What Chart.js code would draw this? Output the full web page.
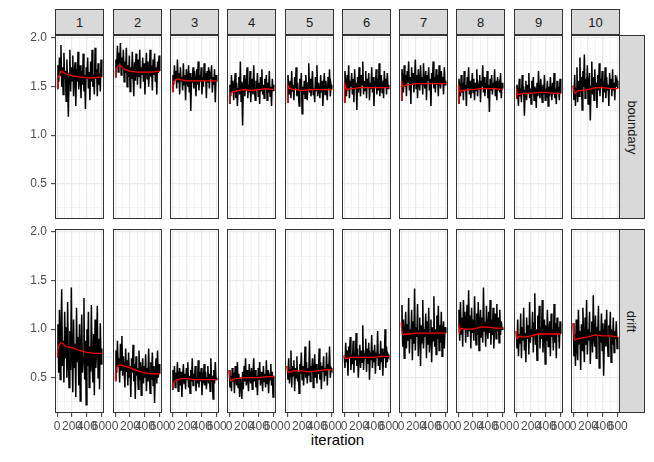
<!DOCTYPE html>
<html>
<head>
<meta charset="utf-8">
<script src="https://cdn.jsdelivr.net/npm/chart.js@4.4.1/dist/chart.umd.min.js"></script>
<style>
  body { margin: 0; background: #fff; }
  #wrap { position: relative; width: 654px; height: 462px; overflow: hidden; font-family: "Liberation Sans", Arial, sans-serif; }
  #wrap canvas { position: absolute; }
  .strip { position: absolute; box-sizing: border-box; background: #d9d9d9; border: 1px solid #333; color: #1a1a1a; font-size: 13px; display: flex; align-items: center; justify-content: center; }
  .strip.side span { transform: rotate(90deg); white-space: nowrap; }
  #xtitle { position: absolute; left: 55px; width: 565px; top: 431px; text-align: center; font-size: 15px; color: #000; }
</style>
</head>
<body>
<div id="wrap">
  <div id="xtitle">iteration</div>
</div>
<script>
// facets
const chains = ['1', '2', '3', '4', '5', '6', '7', '8', '9', '10'];
const params = ['boundary', 'drift'];

// axis ticks
const yTicks = [0.25, 0.5, 0.75, 1.0, 1.25, 1.5, 1.75, 2.0];
const xTicks = [0, 100, 200, 300, 400, 500, 600];

const boundaryTrace = [
  [1.48,1.72,1.55,1.80,1.62,1.93,1.50,1.70,1.42,1.85,1.58,1.66,1.35,1.78,1.52,1.19,1.64,1.88,1.45,1.70,1.56,1.82,1.40,1.62,1.75,1.30,1.68,1.55,1.86,1.47,1.60,1.72,1.38,1.66,1.52,1.84,1.45,1.62,1.27,1.70,1.58,1.80,1.48,1.65,1.36,1.76,1.55,1.88,1.50,1.62,1.42,1.90,1.58,1.68,1.40,1.74,1.52,1.64,1.45,1.78,1.60],
  [1.60,1.78,1.70,1.92,1.65,1.85,1.74,1.95,1.62,1.80,1.68,1.88,1.55,1.76,1.64,1.90,1.50,1.72,1.60,1.82,1.45,1.70,1.58,1.86,1.62,1.40,1.75,1.56,1.84,1.66,1.52,1.78,1.60,1.88,1.48,1.70,1.62,1.80,1.55,1.74,1.42,1.68,1.85,1.58,1.76,1.50,1.66,1.88,1.60,1.72,1.46,1.78,1.62,1.84,1.55,1.70,1.42,1.76,1.64,1.82,1.66],
  [1.45,1.62,1.52,1.72,1.58,1.66,1.48,1.78,1.55,1.64,1.42,1.70,1.56,1.60,1.46,1.74,1.52,1.62,1.36,1.68,1.58,1.50,1.72,1.44,1.64,1.25,1.60,1.54,1.70,1.48,1.66,1.56,1.40,1.68,1.52,1.76,1.46,1.62,1.55,1.70,1.42,1.60,1.50,1.74,1.56,1.64,1.38,1.66,1.54,1.70,1.48,1.62,1.58,1.72,1.44,1.60,1.52,1.68,1.34,1.62,1.55],
  [1.33,1.52,1.40,1.62,1.45,1.56,1.36,1.50,1.64,1.38,1.54,1.30,1.48,1.60,1.42,1.76,1.35,1.55,1.10,1.50,1.62,1.40,1.58,1.46,1.70,1.38,1.52,1.44,1.66,1.34,1.50,1.58,1.42,1.72,1.46,1.36,1.56,1.48,1.64,1.40,1.54,1.32,1.60,1.46,1.68,1.42,1.52,1.38,1.58,1.48,1.62,1.36,1.54,1.44,1.66,1.40,1.50,1.30,1.58,1.46,1.52],
  [1.34,1.62,1.50,1.42,1.56,1.38,1.66,1.45,1.52,1.36,1.60,1.48,1.70,1.40,1.54,1.44,1.30,1.58,1.46,1.64,1.22,1.50,1.42,1.56,1.38,1.62,1.48,1.36,1.54,1.74,1.44,1.58,1.40,1.52,1.66,1.42,1.48,1.34,1.60,1.46,1.72,1.40,1.54,1.48,1.38,1.62,1.44,1.56,1.30,1.50,1.64,1.42,1.56,1.46,1.36,1.60,1.48,1.68,1.40,1.52,1.47],
  [1.34,1.66,1.54,1.40,1.62,1.46,1.72,1.38,1.56,1.50,1.64,1.42,1.58,1.34,1.68,1.48,1.54,1.26,1.60,1.44,1.70,1.50,1.40,1.62,1.52,1.76,1.42,1.56,1.46,1.66,1.38,1.58,1.50,1.64,1.36,1.54,1.48,1.70,1.44,1.60,1.30,1.56,1.50,1.68,1.42,1.58,1.46,1.74,1.40,1.54,1.62,1.44,1.56,1.38,1.66,1.50,1.58,1.42,1.64,1.48,1.52],
  [1.36,1.68,1.58,1.44,1.72,1.50,1.62,1.40,1.66,1.54,1.76,1.46,1.60,1.32,1.70,1.52,1.64,1.44,1.58,1.78,1.48,1.62,1.38,1.68,1.56,1.46,1.72,1.52,1.60,1.42,1.74,1.54,1.48,1.66,1.36,1.62,1.56,1.70,1.46,1.58,1.30,1.64,1.54,1.76,1.48,1.60,1.44,1.68,1.52,1.62,1.40,1.72,1.56,1.48,1.66,1.54,1.60,1.42,1.70,1.52,1.56],
  [1.33,1.58,1.48,1.40,1.62,1.44,1.54,1.36,1.66,1.46,1.52,1.30,1.60,1.48,1.70,1.42,1.56,1.38,1.50,1.64,1.44,1.58,1.36,1.54,1.46,1.68,1.40,1.52,1.48,1.62,1.34,1.56,1.50,1.72,1.44,1.60,1.40,1.54,1.48,1.66,1.38,1.52,1.24,1.58,1.46,1.62,1.42,1.54,1.48,1.68,1.40,1.56,1.36,1.60,1.46,1.52,1.44,1.64,1.38,1.54,1.48],
  [1.38,1.52,1.44,1.30,1.58,1.40,1.48,1.34,1.62,1.42,1.50,1.20,1.46,1.56,1.36,1.52,1.44,1.64,1.38,1.48,1.32,1.56,1.42,1.60,1.36,1.50,1.46,1.28,1.54,1.40,1.66,1.44,1.38,1.58,1.46,1.34,1.52,1.42,1.62,1.36,1.48,1.44,1.56,1.30,1.50,1.40,1.60,1.46,1.36,1.54,1.42,1.64,1.38,1.48,1.32,1.56,1.44,1.50,1.36,1.58,1.43],
  [1.51,1.36,1.62,1.30,1.48,1.70,1.34,1.56,1.40,1.80,1.44,1.60,1.26,1.66,1.50,1.83,1.38,1.58,1.46,1.72,1.32,1.54,1.64,1.15,1.50,1.76,1.42,1.60,1.36,1.68,1.48,1.54,1.28,1.62,1.46,1.74,1.40,1.58,1.50,1.66,1.34,1.56,1.44,1.70,1.38,1.60,1.46,1.52,1.30,1.64,1.48,1.58,1.40,1.68,1.46,1.54,1.36,1.62,1.50,1.56,1.48]
];

const driftTrace = [
  [0.71,1.05,0.55,1.20,0.48,0.95,1.41,0.62,0.88,0.45,1.18,0.70,1.02,0.50,1.28,0.66,0.40,0.98,0.58,1.43,0.72,0.35,1.10,0.60,0.85,0.30,1.22,0.66,0.92,0.42,1.05,0.26,0.80,1.15,0.55,0.70,1.32,0.48,0.88,0.22,1.00,0.62,1.18,0.40,0.82,0.56,1.25,0.65,0.45,0.95,0.32,1.10,0.60,0.78,1.24,0.50,0.90,0.38,1.06,0.64,0.80],
  [0.47,0.78,0.55,0.88,0.62,0.70,0.45,0.85,0.58,0.93,0.52,0.72,0.60,0.40,0.80,0.56,0.68,0.42,0.76,0.50,0.62,0.30,0.70,0.55,0.84,0.46,0.64,0.28,0.72,0.52,0.60,0.38,0.78,0.48,0.66,0.32,0.58,0.70,0.44,0.62,0.50,0.74,0.36,0.60,0.46,0.80,0.52,0.34,0.66,0.48,0.76,0.42,0.62,0.24,0.56,0.70,0.44,0.78,0.50,0.64,0.54],
  [0.38,0.58,0.45,0.62,0.40,0.55,0.48,0.66,0.36,0.52,0.60,0.42,0.56,0.30,0.50,0.64,0.44,0.54,0.38,0.60,0.48,0.66,0.40,0.52,0.34,0.58,0.46,0.70,0.42,0.54,0.48,0.62,0.36,0.50,0.44,0.68,0.40,0.56,0.46,0.60,0.32,0.52,0.48,0.64,0.42,0.56,0.38,0.50,0.62,0.44,0.54,0.36,0.70,0.46,0.52,0.28,0.58,0.44,0.66,0.48,0.50],
  [0.58,0.40,0.52,0.36,0.60,0.46,0.55,0.34,0.62,0.48,0.42,0.66,0.40,0.54,0.30,0.50,0.44,0.28,0.56,0.38,0.62,0.46,0.70,0.42,0.58,0.48,0.36,0.64,0.50,0.44,0.60,0.38,0.54,0.70,0.46,0.58,0.40,0.52,0.32,0.60,0.48,0.66,0.42,0.56,0.50,0.36,0.62,0.46,0.54,0.40,0.68,0.44,0.58,0.34,0.52,0.48,0.64,0.42,0.56,0.30,0.52],
  [0.62,0.48,0.70,0.44,0.58,0.78,0.40,0.62,0.52,0.68,0.36,0.60,0.50,0.72,0.46,0.56,0.34,0.64,0.54,0.76,0.48,0.62,0.42,0.58,0.82,0.50,0.66,0.44,0.60,0.52,0.88,0.46,0.62,0.56,0.70,0.40,0.58,0.74,0.50,0.64,0.44,0.60,0.54,0.80,0.48,0.66,0.38,0.62,0.56,0.72,0.46,0.60,0.52,0.76,0.42,0.64,0.58,0.82,0.50,0.60,0.58],
  [0.73,0.60,0.86,0.66,0.78,0.52,0.82,0.70,0.92,0.58,0.74,0.64,0.88,0.55,0.76,0.68,0.96,0.62,0.80,0.50,0.72,0.84,0.60,0.78,0.66,1.04,0.58,0.74,0.70,0.90,0.56,0.80,0.64,0.86,0.48,0.72,0.68,0.94,0.60,0.78,0.66,0.84,0.54,0.76,0.70,0.98,0.62,0.74,0.58,0.88,0.66,0.80,0.52,0.76,0.70,1.00,0.60,0.82,0.66,0.74,0.72],
  [1.07,1.25,0.82,1.10,0.70,0.95,1.18,0.80,1.05,0.88,1.32,0.75,1.00,0.90,1.20,0.68,1.08,0.85,1.42,0.78,1.02,0.92,1.26,0.72,0.98,1.12,0.62,1.04,0.86,1.30,0.80,1.00,0.92,1.16,0.70,1.08,0.84,1.22,0.76,0.96,1.10,0.66,1.02,0.88,1.34,0.82,1.00,0.74,1.14,0.90,1.24,0.78,1.04,0.86,1.18,0.72,0.98,1.08,0.80,1.02,0.96],
  [1.05,1.20,0.88,1.28,0.95,1.12,0.82,1.30,1.00,1.18,0.86,1.08,1.25,0.92,1.40,0.98,1.14,0.80,1.22,0.96,1.10,0.88,1.34,1.02,0.84,1.16,0.94,1.28,0.78,1.06,1.20,0.92,1.12,0.86,1.43,0.98,1.08,0.82,1.24,1.00,0.90,1.18,0.96,1.30,0.84,1.10,0.94,1.22,0.80,1.06,1.16,0.90,1.26,0.98,1.12,0.86,1.20,0.94,1.08,1.00,1.02],
  [0.98,0.80,1.10,0.72,0.95,0.85,1.16,0.70,1.02,0.88,1.22,0.78,0.96,0.66,1.12,0.90,1.04,0.74,1.28,0.86,1.00,0.92,1.18,0.76,1.06,1.37,0.84,1.00,0.68,1.14,0.94,1.24,0.80,1.02,0.90,1.30,0.76,0.98,1.10,0.64,1.04,0.88,1.20,0.82,0.96,1.08,0.72,1.16,0.92,1.00,0.78,1.26,0.86,1.06,0.70,1.12,0.94,1.02,0.80,1.08,0.95],
  [1.06,0.72,0.95,0.62,1.10,0.80,0.68,1.20,0.85,0.98,0.58,1.05,0.78,1.22,0.90,0.66,1.12,0.84,1.30,0.74,1.00,0.88,1.18,0.64,0.96,1.08,0.76,1.35,0.90,0.82,1.14,0.70,1.02,0.94,1.24,0.60,0.98,0.86,1.16,0.78,1.06,0.52,0.96,1.10,0.82,1.20,0.88,0.72,1.04,0.92,1.18,0.66,1.00,0.84,1.12,0.76,0.98,0.90,1.08,0.80,0.92]
];

// running mean (red line), read at these iterations
const meanIter = [1, 5, 15, 30, 50, 80, 120, 200, 300, 400, 500, 600];
const boundaryMean = [
  [1.48,1.58,1.60,1.62,1.66,1.65,1.63,1.61,1.60,1.59,1.59,1.60],
  [1.60,1.66,1.68,1.70,1.72,1.71,1.68,1.66,1.65,1.65,1.65,1.66],
  [1.45,1.52,1.55,1.56,1.57,1.58,1.57,1.56,1.56,1.56,1.56,1.56],
  [1.33,1.40,1.43,1.44,1.45,1.45,1.46,1.47,1.46,1.47,1.48,1.47],
  [1.34,1.52,1.50,1.48,1.48,1.47,1.47,1.46,1.47,1.47,1.47,1.47],
  [1.34,1.54,1.50,1.47,1.47,1.48,1.48,1.49,1.49,1.49,1.49,1.49],
  [1.36,1.56,1.52,1.50,1.51,1.52,1.52,1.53,1.53,1.53,1.53,1.53],
  [1.33,1.52,1.46,1.45,1.46,1.46,1.47,1.47,1.48,1.48,1.48,1.47],
  [1.38,1.45,1.42,1.42,1.42,1.43,1.43,1.43,1.44,1.44,1.43,1.43],
  [1.51,1.48,1.44,1.43,1.45,1.46,1.46,1.47,1.49,1.49,1.48,1.48]
];
const driftMean = [
  [0.71,0.76,0.82,0.84,0.86,0.85,0.82,0.81,0.78,0.76,0.75,0.75],
  [0.47,0.55,0.59,0.62,0.63,0.63,0.62,0.60,0.57,0.55,0.54,0.54],
  [0.40,0.43,0.45,0.46,0.47,0.48,0.49,0.49,0.48,0.48,0.48,0.48],
  [0.58,0.52,0.47,0.47,0.48,0.49,0.49,0.50,0.50,0.50,0.51,0.51],
  [0.62,0.58,0.55,0.56,0.56,0.57,0.57,0.57,0.56,0.57,0.58,0.58],
  [0.73,0.71,0.70,0.70,0.70,0.71,0.71,0.71,0.71,0.71,0.72,0.72],
  [1.07,1.02,0.95,0.94,0.95,0.95,0.95,0.96,0.96,0.96,0.96,0.96],
  [1.05,1.04,0.97,1.00,1.01,1.00,1.00,1.00,1.02,1.02,1.01,1.01],
  [0.98,0.92,0.90,0.92,0.93,0.92,0.92,0.93,0.95,0.95,0.95,0.95],
  [1.06,0.98,0.90,0.89,0.90,0.90,0.91,0.92,0.94,0.93,0.93,0.92]
];

// layout (pixels)
const firstLeft = 55.3, pitch = 57.3, panelW = 49, panelH = 184;
const rowTop = [35, 229];
const wrap = document.getElementById('wrap');
const fontFam = '"Liberation Sans", Arial, sans-serif';

function onStep(v, step) {
  return Math.abs(v / step - Math.round(v / step)) < 1e-9;
}

// panel border all round
const frame = {
  id: 'frame',
  afterDatasetsDraw(chart) {
    const a = chart.chartArea, c = chart.ctx;
    c.save();
    c.strokeStyle = '#333333';
    c.lineWidth = 1;
    c.strokeRect(a.left + 0.5, a.top + 0.5, a.right - a.left - 1, a.bottom - a.top - 1);
    c.restore();
  }
};

function addStrip(text, left, top, w, h, side) {
  const d = document.createElement('div');
  d.className = 'strip' + (side ? ' side' : '');
  d.style.left = left + 'px';
  d.style.top = top + 'px';
  d.style.width = w + 'px';
  d.style.height = h + 'px';
  d.innerHTML = '<span>' + text + '</span>';
  wrap.appendChild(d);
}

params.forEach((p, r) => {
  const traces = r === 0 ? boundaryTrace : driftTrace;
  const means = r === 0 ? boundaryMean : driftMean;

  chains.forEach((ch, c) => {
    const left = Math.round(firstLeft + c * pitch);
    const firstCol = c === 0;
    const bottomRow = r === params.length - 1;
    // generous padding so tick label overhang never squeezes the panel
    const padL = firstCol ? 0 : 16, padR = 16, padT = 20;
    const padB = bottomRow ? 0 : 20;
    const yw = firstCol ? left : 0;
    const xh = bottomRow ? 22 : 0;

    const cv = document.createElement('canvas');
    const w = padL + yw + panelW + padR;
    const h = padT + panelH + (bottomRow ? xh : padB);
    cv.width = w; cv.height = h;
    cv.style.left = (left - padL - yw) + 'px';
    cv.style.top = (rowTop[r] - padT) + 'px';
    cv.style.width = w + 'px';
    cv.style.height = h + 'px';
    wrap.appendChild(cv);

    const vals = traces[c];
    const trace = vals.map((v, i) => ({ x: 1 + i * 599 / (vals.length - 1), y: v }));
    const mean = means[c].map((v, i) => ({ x: meanIter[i], y: v }));

    new Chart(cv, {
      type: 'line',
      data: {
        datasets: [
          { data: mean, borderColor: '#ff0000', borderWidth: 1.3, pointRadius: 0, tension: 0, order: 0 },
          { data: trace, borderColor: '#000000', borderWidth: 1.5, pointRadius: 0, tension: 0, order: 1 }
        ]
      },
      options: {
        responsive: false,
        animation: false,
        events: [],
        layout: { padding: { left: padL, right: padR, top: padT, bottom: padB } },
        plugins: { legend: { display: false }, tooltip: { enabled: false } },
        scales: {
          x: {
            type: 'linear', min: -29, max: 630,
            afterBuildTicks: s => { s.ticks = xTicks.map(v => ({ value: v })); },
            afterFit: s => { s.height = xh; },
            border: { display: false },
            grid: {
              color: '#ebebeb',
              lineWidth: ctx => onStep(ctx.tick.value, 200) ? 1.3 : 0.6,
              drawTicks: bottomRow,
              tickLength: 4,
              tickWidth: 1,
              tickColor: ctx => onStep(ctx.tick.value, 200) ? '#333333' : 'rgba(0,0,0,0)'
            },
            ticks: {
              display: bottomRow,
              autoSkip: false, maxRotation: 0, minRotation: 0, padding: 2,
              color: '#4d4d4d', font: { family: fontFam, size: 12 },
              callback: v => onStep(v, 200) ? String(v) : ''
            }
          },
          y: {
            type: 'linear', min: 0.136, max: 2.032,
            afterBuildTicks: s => { s.ticks = yTicks.map(v => ({ value: v })); },
            afterFit: s => { s.width = yw; },
            border: { display: false },
            grid: {
              color: '#ebebeb',
              lineWidth: ctx => onStep(ctx.tick.value, 0.5) ? 1.3 : 0.6,
              drawTicks: firstCol,
              tickLength: 4,
              tickWidth: 1,
              tickColor: ctx => onStep(ctx.tick.value, 0.5) ? '#333333' : 'rgba(0,0,0,0)'
            },
            ticks: {
              display: firstCol,
              autoSkip: false, padding: 4,
              color: '#4d4d4d', font: { family: fontFam, size: 12 },
              callback: v => onStep(v, 0.5) ? v.toFixed(1) : ''
            }
          }
        }
      },
      plugins: [frame]
    });

    if (r === 0) addStrip(ch, left, 9, panelW, 26, false);
  });

  addStrip(p, Math.round(firstLeft + (chains.length - 1) * pitch) + panelW - 1, rowTop[r], 26, panelH, true);
});
</script>
</body>
</html>
